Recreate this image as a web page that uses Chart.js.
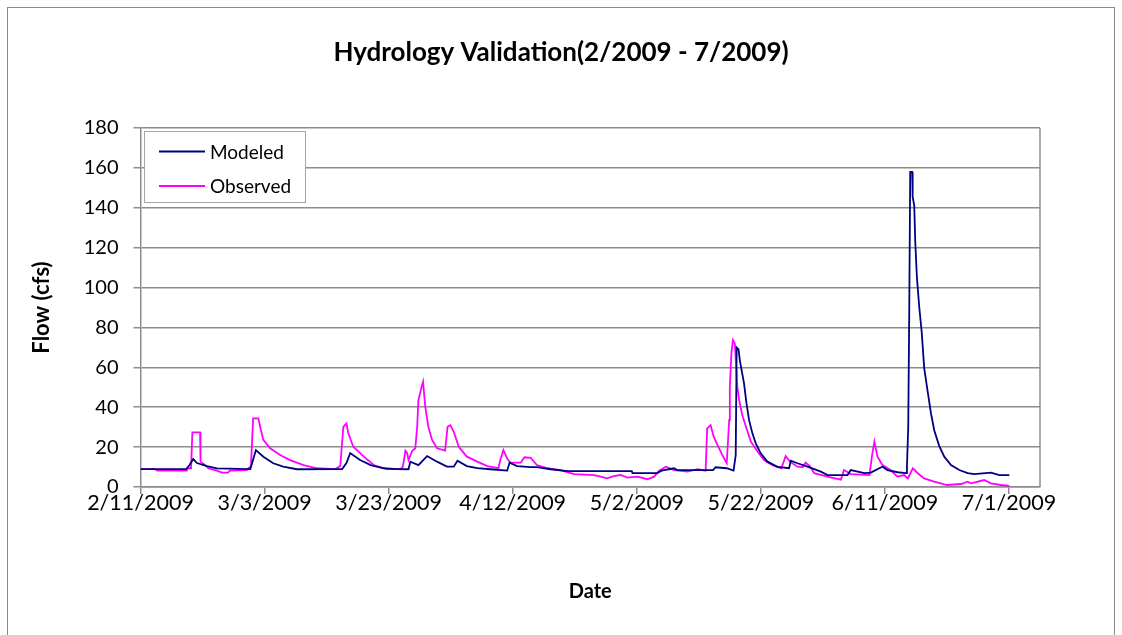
<!DOCTYPE html>
<html><head><meta charset="utf-8">
<script src="https://cdn.jsdelivr.net/npm/chart.js@4/dist/chart.umd.min.js"></script>
<style>html,body{margin:0;padding:0;background:#fff;}canvas{display:block}</style>
</head><body>
<canvas id="c" width="1122" height="635"></canvas>
<script>
// ---- data (x = days since 2/11/2009) ----
const startDate = [2009, 1, 11];
const chartTitle = 'Hydrology Validation(2/2009 - 7/2009)';
const xTitle = 'Date';
const yTitle = 'Flow (cfs)';
const xTickDays = [0, 20, 40, 60, 80, 100, 120, 140];
const yTickValues = [0, 20, 40, 60, 80, 100, 120, 140, 160, 180];

const modeledDays = [0, 7.4, 7.9, 8.5, 9.1, 10.7, 12.3, 17.7, 18.0, 18.6, 19.8, 21.4, 23.0, 25.2, 32.5, 33.2, 33.8, 35.4, 37.1, 39.2, 41.3, 43.2, 43.5, 44.8, 46.2, 47.8, 49.4, 50.5, 51.1, 52.6, 54.3, 56.4, 59.1, 59.5, 60.7, 62.9, 63.9, 66.1, 68.8, 79.2, 79.3, 83.3, 84.0, 86.0, 86.5, 92.3, 92.7, 94.5, 95.6, 95.95, 96.1, 96.4, 96.64, 97.29, 97.68, 98.1, 98.64, 99.18, 99.98, 101.06, 102.68, 104.55, 104.83, 105.9, 107.52, 109.67, 110.75, 113.98, 114.5, 116.7, 117.74, 119.4, 119.63, 120.4, 122.05, 123.4, 123.55, 123.76, 123.92, 124.08, 124.4, 124.47, 124.73, 124.89, 125.16, 125.53, 125.92, 126.34, 126.89, 127.42, 127.95, 128.76, 129.57, 130.65, 131.99, 133.34, 134.41, 137.1, 138.45, 140.06];
const modeledFlow = [9, 9, 11, 14, 12, 10.5, 9.3, 9, 12, 18.5, 15.2, 11.9, 10.2, 8.9, 9, 12, 17, 13.5, 11, 9.4, 9, 8.9, 12.7, 11, 15.5, 12.7, 10.2, 10.2, 13.2, 10.5, 9.5, 8.9, 8.2, 12.2, 10.5, 10, 10, 8.9, 8, 8, 7, 7, 8.2, 9.4, 8.5, 8.5, 9.9, 9.4, 8.2, 16, 70, 69, 63, 52, 42, 33.6, 26.9, 21.9, 16.9, 12.7, 10.1, 9.4, 13.2, 11.9, 10.2, 7.7, 6, 6, 8.5, 7, 7.2, 9.9, 10.2, 8.5, 7.4, 7, 10, 30, 87, 158, 158, 145.6, 141, 123, 105, 90.4, 78, 59.5, 48, 37, 28.5, 20.5, 15.2, 11, 8.5, 7, 6.5, 7.2, 6, 6];

const observedDays = [0, 2.3, 2.7, 7.46, 7.5, 8.15, 8.36, 9.6, 9.68, 10.4, 10.94, 12.3, 13.15, 14.1, 14.4, 17.1, 17.4, 17.8, 18.16, 19.0, 19.4, 19.8, 20.9, 22.5, 24.1, 26.3, 28.4, 31.4, 32.2, 32.7, 33.2, 33.5, 34.3, 36.0, 37.6, 39.7, 41.9, 42.3, 42.7, 43.0, 43.2, 43.8, 44.3, 44.6, 44.8, 45.3, 45.55, 45.9, 46.4, 47.0, 47.8, 49.1, 49.5, 49.95, 50.5, 51.3, 52.6, 54.3, 55.9, 57.7, 58.0, 58.5, 59.1, 59.6, 61.3, 61.9, 62.9, 63.9, 65.6, 67.7, 69.9, 73.1, 74.2, 75.2, 76.3, 77.4, 78.5, 80.1, 81.7, 82.8, 83.6, 84.7, 86.0, 88.2, 89.8, 91.1, 91.35, 91.9, 92.4, 93.0, 93.8, 94.5, 94.9, 95.0, 95.25, 95.5, 95.8, 96.0, 96.2, 96.5, 97.0, 97.6, 98.4, 99.5, 100.5, 101.9, 103.3, 104.0, 104.7, 105.9, 106.8, 107.2, 107.9, 108.6, 110.7, 112.9, 113.4, 114.5, 117.5, 117.9, 118.3, 118.8, 119.6, 120.9, 122.0, 123.1, 123.7, 124.5, 125.3, 126.3, 127.95, 130.0, 132.3, 133.3, 133.9, 136.0, 137.1, 138.7, 140.06];
const observedFlow = [9, 9, 8.2, 8.2, 9.4, 9.4, 27.4, 27.4, 12.7, 11, 9.4, 8.2, 7.2, 7.2, 8.2, 8.5, 9.4, 10.5, 34.4, 34.4, 28.6, 23.6, 19.4, 16, 13.5, 11, 9.4, 9, 10.5, 30.2, 31.9, 26.9, 20.2, 15.2, 11, 9, 9, 10.2, 18.2, 17, 13.5, 18.2, 19.4, 30.2, 43.6, 50, 52.8, 40.3, 30.2, 23.6, 19.4, 18.2, 30.2, 31, 27.7, 20.2, 15.2, 12.7, 10.5, 9.4, 13.5, 18.5, 14.4, 12.2, 12.2, 14.9, 14.6, 11, 9.4, 8.5, 6.5, 6, 5.2, 4.3, 5.5, 6, 4.7, 5.2, 3.9, 5.2, 8.2, 10.2, 8.5, 7.7, 8.9, 8.2, 29.4, 31, 25.2, 21.1, 16, 11.9, 33.6, 50.3, 67, 73.7, 72, 62, 50.3, 43.6, 36.1, 30.2, 22.7, 17.7, 13.5, 11, 9.4, 15.5, 12.7, 10.2, 10, 12.2, 10.5, 6.9, 5.2, 3.7, 8.5, 6.5, 6, 15.2, 22.7, 15.2, 11, 8.5, 5.2, 6, 4.3, 9.4, 6.9, 4.3, 2.7, 1, 1.5, 2.7, 1.8, 3.5, 1.8, 1, 0.5];

const toPoints = (xs, ys) => xs.map((x, i) => ({ x: x, y: ys[i] }));
const fmtDay = d => {
  const dt = new Date(startDate[0], startDate[1], startDate[2] + d);
  return (dt.getMonth() + 1) + '/' + dt.getDate() + '/' + dt.getFullYear();
};

const GRID = '#8c8c8c';
const FONT = 'Lato, "Open Sans", sans-serif';

const framePlugin = {
  id: 'frame',
  beforeDraw(chart) {
    const c = chart.ctx;
    c.save();
    c.fillStyle = '#fff';
    c.fillRect(0, 0, chart.width, chart.height);
    c.strokeStyle = '#8a8a8a';
    c.lineWidth = 1;
    c.strokeRect(7.5, 7.5, 1107, 700);
    c.restore();
  },
  beforeDatasetsDraw(chart) {
    const a = chart.chartArea, c = chart.ctx;
    c.save();
    c.strokeStyle = GRID;
    c.lineWidth = 1.5;
    c.beginPath();
    c.moveTo(a.right, a.top);
    c.lineTo(a.right, a.bottom);
    c.stroke();
    c.restore();
  },
  afterDraw(chart) {
    const c = chart.ctx, a = chart.chartArea;
    c.save();
    c.fillStyle = '#000';
    c.textAlign = 'center';
    c.textBaseline = 'middle';
    c.font = 'bold 26px ' + FONT;
    c.fillText(chartTitle, 561, 53);
    c.font = 'bold 20px ' + FONT;
    c.fillText(xTitle, (a.left + a.right) / 2, 592);
    c.translate(42, (a.top + a.bottom) / 2);
    c.rotate(-Math.PI / 2);
    c.font = 'bold 22px ' + FONT;
    c.fillText(yTitle, 0, 0);
    c.restore();
  }
};

const legendPlugin = {
  id: 'boxLegend',
  afterDatasetsDraw(chart) {
    const c = chart.ctx;
    const bx = 144.5, by = 131.5, bw = 161, bh = 71;
    c.save();
    c.fillStyle = '#fff';
    c.fillRect(bx, by, bw, bh);
    c.strokeStyle = '#a6a6a6';
    c.lineWidth = 1;
    c.strokeRect(bx, by, bw, bh);
    c.font = '19px ' + FONT;
    c.textBaseline = 'middle';
    c.textAlign = 'left';
    chart.data.datasets.forEach((ds, i) => {
      const y = 151.5 + i * 34.5;
      c.strokeStyle = ds.borderColor;
      c.lineWidth = 1.8;
      c.beginPath();
      c.moveTo(159, y);
      c.lineTo(205, y);
      c.stroke();
      c.fillStyle = '#000';
      c.fillText(ds.label, 210, y + 1);
    });
    c.restore();
  }
};

new Chart(document.getElementById('c'), {
  type: 'line',
  data: {
    datasets: [
      { label: 'Modeled', data: toPoints(modeledDays, modeledFlow), borderColor: '#000080', borderWidth: 1.8, pointRadius: 0, tension: 0, fill: false },
      { label: 'Observed', data: toPoints(observedDays, observedFlow), borderColor: '#ff00ff', borderWidth: 1.8, pointRadius: 0, tension: 0, fill: false }
    ]
  },
  options: {
    responsive: false,
    animation: false,
    devicePixelRatio: 1,
    layout: { padding: { left: 0, right: 82, top: 128, bottom: 0 } },
    plugins: { legend: { display: false }, title: { display: false }, tooltip: { enabled: false } },
    scales: {
      x: {
        type: 'linear', min: 0, max: 145,
        afterBuildTicks: s => { s.ticks = xTickDays.map(v => ({ value: v })); },
        afterFit: s => { s.height = 148; },
        grid: { drawOnChartArea: false, drawTicks: true, tickLength: 7, color: GRID, lineWidth: 1.5 },
        border: { display: true, color: GRID, width: 1.5 },
        ticks: { font: { family: FONT, size: 21.5 }, color: '#000', maxRotation: 0, autoSkip: false, padding: -4,
          callback: v => fmtDay(v) }
      },
      y: {
        min: 0, max: 180,
        afterBuildTicks: s => { s.ticks = yTickValues.map(v => ({ value: v })); },
        afterFit: s => { s.width = 140.5; },
        grid: { color: GRID, lineWidth: 1.5, tickLength: 7, drawTicks: true },
        border: { display: true, color: GRID, width: 1.5 },
        ticks: { font: { family: FONT, size: 20 }, color: '#000', padding: 15 }
      }
    }
  },
  plugins: [framePlugin, legendPlugin]
});
</script>
</body></html>
